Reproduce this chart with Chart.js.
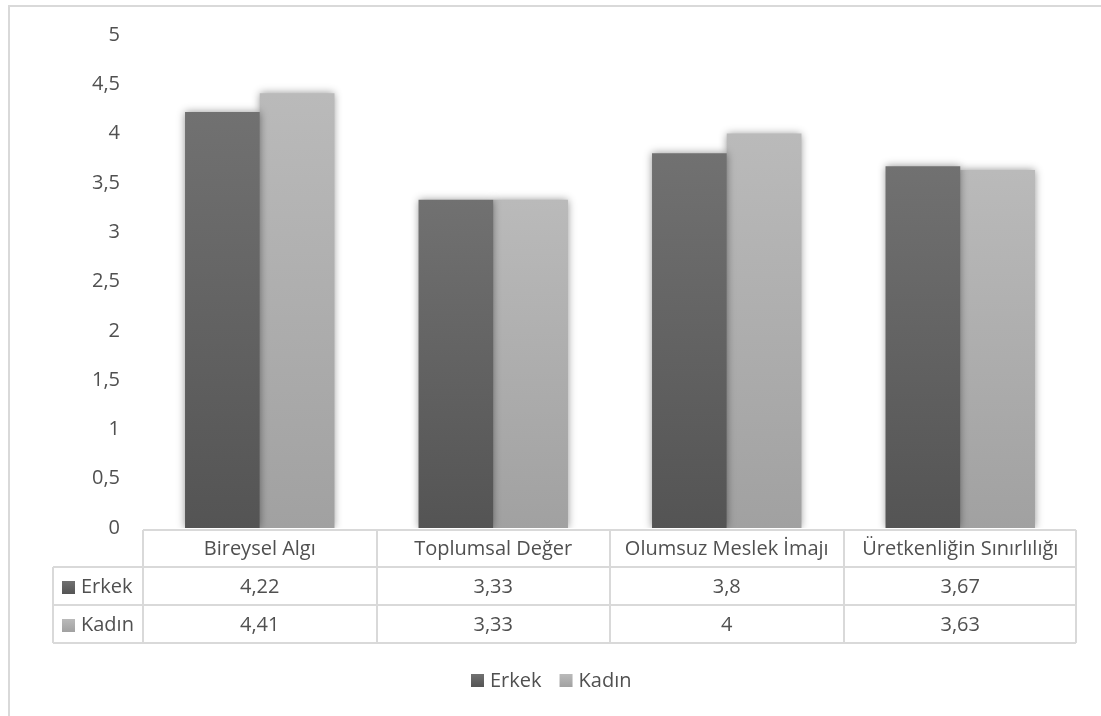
<!DOCTYPE html>
<html lang="tr">
<head>
<meta charset="utf-8">
<title>Erkek / Kadın</title>
<script src="https://cdn.jsdelivr.net/npm/chart.js@4/dist/chart.umd.min.js"></script>
<style>
  html, body { margin: 0; padding: 0; background: #ffffff; }
  #wrap { width: 1101px; height: 716px; position: relative; }
</style>
</head>
<body>
<div id="wrap"><canvas id="chart" width="1101" height="716"></canvas></div>
<script>
// Category names, series values and value-axis steps
const categories = ['Bireysel Algı', 'Toplumsal Değer', 'Olumsuz Meslek İmajı', 'Üretkenliğin Sınırlılığı'];
const seriesNames = ['Erkek', 'Kadın'];
const erkekValues = [4.22, 3.33, 3.8, 3.67];
const kadinValues = [4.41, 3.33, 4, 3.63];
const yAxisMax = 5;
const yAxisStep = 0.5;

const FONT = '"Open Sans", "Noto Sans", sans-serif';
const FONT_SIZE = 20;
const TEXT = '#505050';
const LINE = '#d9d9d9';

// top / bottom shades of each series' vertical gradient
const shades = {
  Erkek: ['#717171', '#545454'],
  'Kadın': ['#bababa', '#a1a1a1']
};

const fmt = v => String(v).replace('.', ',');

function barGradient(ctx, name) {
  const chart = ctx.chart;
  const ys = chart.scales && chart.scales.y;
  const [c1, c2] = shades[name];
  if (!ys || ctx.raw == null) return c1;
  const top = ys.getPixelForValue(ctx.raw);
  const bottom = ys.getPixelForValue(0);
  if (!Number.isFinite(top) || !Number.isFinite(bottom) || top === bottom) return c1;
  const g = chart.ctx.createLinearGradient(0, top, 0, bottom);
  g.addColorStop(0, c1);
  g.addColorStop(1, c2);
  return g;
}

function keyGradient(c, x, y, s, name) {
  const [c1, c2] = shades[name];
  const g = c.createLinearGradient(0, y, 0, y + s);
  g.addColorStop(0, c1);
  g.addColorStop(1, c2);
  return g;
}

// frame round the whole chart
const framePlugin = {
  id: 'frame',
  beforeDraw(chart) {
    const c = chart.ctx;
    c.save();
    c.fillStyle = '#ffffff';
    c.fillRect(0, 0, chart.width, chart.height);
    c.strokeStyle = LINE;
    c.lineWidth = 2;
    c.beginPath();
    c.moveTo(9, chart.height + 5);
    c.lineTo(9, 6);
    c.lineTo(chart.width + 5, 6);
    c.stroke();
    c.restore();
  }
};

// soft drop shadow behind the bars
const shadowPlugin = {
  id: 'barShadow',
  beforeDatasetsDraw(chart) {
    const c = chart.ctx;
    c.save();
    c.shadowColor = 'rgba(0,0,0,0.42)';
    c.shadowBlur = 8;
    c.shadowOffsetX = 0;
    c.shadowOffsetY = 0;
  },
  afterDatasetsDraw(chart) {
    chart.ctx.restore();
  }
};

// data table under the plot plus the legend at the bottom
const tablePlugin = {
  id: 'dataTable',
  afterDraw(chart) {
    const c = chart.ctx;
    const xs = chart.scales.x;
    const ys = chart.scales.y;
    const n = categories.length;
    const half = (xs.right - xs.left) / n / 2;
    const left = Math.round(xs.left);
    const right = Math.round(xs.right) - 1;
    const keyLeft = 53;
    const top = Math.round(ys.getPixelForValue(0)) + 2;
    const rowH = [37, 38, 38];
    const y1 = top + rowH[0];
    const y2 = y1 + rowH[1];
    const y3 = y2 + rowH[2];

    c.save();
    c.strokeStyle = LINE;
    c.lineWidth = 2;
    c.beginPath();
    // horizontal rules
    c.moveTo(left, top); c.lineTo(right, top);
    c.moveTo(keyLeft, y1); c.lineTo(right, y1);
    c.moveTo(keyLeft, y2); c.lineTo(right, y2);
    c.moveTo(keyLeft, y3); c.lineTo(right, y3);
    // vertical rules
    c.moveTo(keyLeft, y1); c.lineTo(keyLeft, y3);
    for (let i = 0; i <= n; i++) {
      const x = i === n ? right : Math.round(xs.getPixelForValue(i) - half);
      c.moveTo(x, top); c.lineTo(x, y3);
    }
    c.stroke();

    c.font = FONT_SIZE + 'px ' + FONT;
    c.fillStyle = TEXT;
    c.textAlign = 'center';
    c.textBaseline = 'middle';
    categories.forEach((name, i) => {
      const cx = xs.getPixelForValue(i);
      c.fillText(name, cx, (top + y1) / 2 + 1);
    });
    const rows = [[y1, y2], [y2, y3]];
    chart.data.datasets.forEach((ds, r) => {
      const my = (rows[r][0] + rows[r][1]) / 2 + 1;
      ds.data.forEach((v, i) => {
        c.fillStyle = TEXT;
        c.textAlign = 'center';
        c.fillText(fmt(v), xs.getPixelForValue(i), my);
      });
      // series key in the first column
      const s = 13;
      const kx = 62, ky = Math.round(my - s / 2);
      c.fillStyle = keyGradient(c, kx, ky, s, ds.label);
      c.fillRect(kx, ky, s, s);
      c.fillStyle = TEXT;
      c.textAlign = 'left';
      c.fillText(ds.label, 81, my);
    });

    // legend under the table
    const s = 13;
    const gap = 6, between = 18;
    const widths = chart.data.datasets.map(ds => s + gap + c.measureText(ds.label).width);
    const total = widths.reduce((a, b) => a + b, 0) + between * (widths.length - 1);
    let lx = Math.round(chart.width / 2 + 1 - total / 2);
    const ly = 680;
    chart.data.datasets.forEach((ds, i) => {
      const ky = Math.round(ly - s / 2);
      c.fillStyle = keyGradient(c, lx, ky, s, ds.label);
      c.fillRect(lx, ky, s, s);
      c.fillStyle = TEXT;
      c.textAlign = 'left';
      c.fillText(ds.label, lx + s + gap, ly + 1);
      lx += widths[i] + between;
    });
    c.restore();
  }
};

new Chart(document.getElementById('chart'), {
  type: 'bar',
  data: {
    labels: categories,
    datasets: [
      {
        label: seriesNames[0],
        data: erkekValues,
        backgroundColor: ctx => barGradient(ctx, seriesNames[0]),
        borderWidth: 0,
        categoryPercentage: 0.64,
        barPercentage: 1.0
      },
      {
        label: seriesNames[1],
        data: kadinValues,
        backgroundColor: ctx => barGradient(ctx, seriesNames[1]),
        borderWidth: 0,
        categoryPercentage: 0.64,
        barPercentage: 1.0
      }
    ]
  },
  options: {
    responsive: false,
    animation: false,
    devicePixelRatio: 1,
    layout: { padding: { left: 10, top: 35, right: 24, bottom: 188 } },
    plugins: {
      legend: { display: false },
      tooltip: { enabled: false },
      title: { display: false }
    },
    scales: {
      x: { display: false },
      y: {
        min: 0,
        max: yAxisMax,
        grid: { display: false, drawTicks: false },
        border: { display: false },
        afterFit(scale) { scale.width = 133; },
        ticks: {
          stepSize: yAxisStep,
          padding: 23,
          color: TEXT,
          font: { family: FONT, size: FONT_SIZE },
          callback: v => fmt(v)
        }
      }
    }
  },
  plugins: [framePlugin, shadowPlugin, tablePlugin]
});
</script>
</body>
</html>
